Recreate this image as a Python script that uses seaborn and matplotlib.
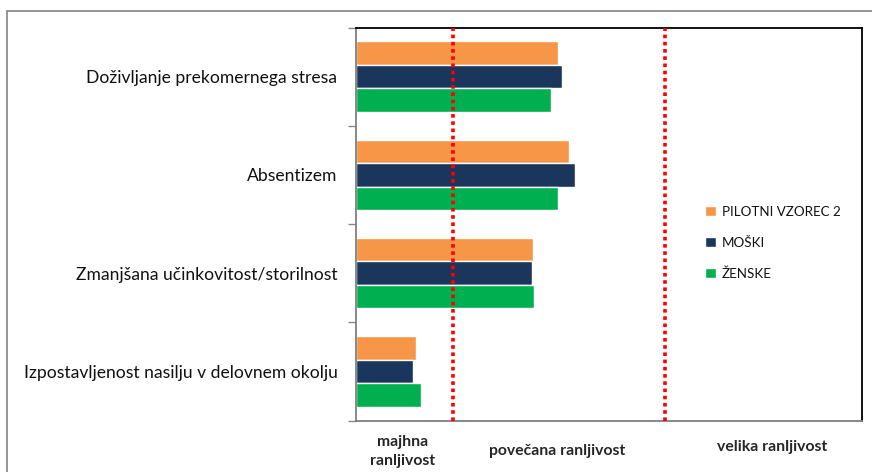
import matplotlib
matplotlib.use("Agg")
import matplotlib.pyplot as plt
import seaborn as sns
import pandas as pd
import numpy as np
from matplotlib.patches import Rectangle

categories = ["Doživljanje prekomernega stresa", "Absentizem",
              "Zmanjšana učinkovitost/storilnost",
              "Izpostavljenost nasilju v delovnem okolju"]
series_names = ["PILOTNI VZOREC 2", "MOŠKI", "ŽENSKE"]
pilotni = [40.0, 42.1, 35.1, 11.9]
moski = [40.8, 43.3, 34.9, 11.4]
zenske = [38.5, 40.0, 35.3, 12.9]
thresholds = [19.2, 61.2]
zone_labels = ["majhna\nranljivost", "povečana ranljivost", "velika ranljivost"]
zone_centers = [9.2, 39.9, 82.2]

colors = ["#F79646", "#1B365D", "#00B050"]

rows = []
for name, vals in zip(series_names, [pilotni, moski, zenske]):
    for c, v in zip(categories, vals):
        rows.append({"cat": c, "series": name, "val": v})
df = pd.DataFrame(rows)

sns.set_theme(style="white")
plt.rcParams['font.family'] = ['Lato', 'DejaVu Sans']

fig = plt.figure(figsize=(8.72, 4.72), dpi=100)
ax = fig.add_axes([355.5/872, (472-420.5)/472, (862-355.5)/872, (420.5-27.5)/472])

sns.barplot(data=df, y="cat", x="val", hue="series", order=categories,
            hue_order=series_names, palette=colors, width=0.72, orient="h",
            ax=ax, edgecolor="white", linewidth=1.0, saturation=1)

ax.set_xlim(0, 100)
ax.set_ylim(3.5, -0.5)
for t in thresholds:
    ax.axvline(t, color="#FF0000", linestyle=(0, (1, 1)), linewidth=2.6, zorder=5)

ax.set_xlabel("")
ax.set_ylabel("")
ax.set_xticks([])
ax.set_yticks(range(len(categories)))
ax.set_yticklabels(categories, fontsize=12.6, color="#111111")
ax.tick_params(axis="y", which="major", length=0, pad=13)
ax.set_yticks(np.arange(-0.5, len(categories), 1.0), minor=True)
ax.tick_params(axis="y", which="minor", length=6, width=1, color="#888888", left=True)

for s in ["left", "bottom"]:
    ax.spines[s].set_color("#7f7f7f")
    ax.spines[s].set_linewidth(1.3)
for s in ["top", "right"]:
    ax.spines[s].set_color("#000000")
    ax.spines[s].set_linewidth(1.3)

trans = ax.get_xaxis_transform()
ax.text(zone_centers[0], (420.5 - 451.5) / 393, zone_labels[0], transform=trans, ha="center",
        va="center", fontsize=11.3, fontweight="bold", linespacing=1.42)
ax.text(zone_centers[1], (420.5 - 451) / 393, zone_labels[1], transform=trans, ha="center",
        va="center", fontsize=11.3, fontweight="bold")
ax.text(zone_centers[2], (420.5 - 447) / 393, zone_labels[2], transform=trans, ha="center",
        va="center", fontsize=11.3, fontweight="bold")

leg = ax.legend(loc="center left", bbox_to_anchor=(0.667, 0.452), frameon=False,
                fontsize=9.6, handlelength=0.8, handleheight=0.8, handletextpad=0.45,
                labelspacing=1.4)
for txt in leg.get_texts():
    txt.set_color("#111111")

fig.patches.append(Rectangle((7/872, -0.1), 1.2, 1 - 11/472 + 0.1, transform=fig.transFigure,
                             fill=False, edgecolor="#8c8c8c", linewidth=1.3))

fig.savefig("out.png", dpi=100, facecolor="white")
